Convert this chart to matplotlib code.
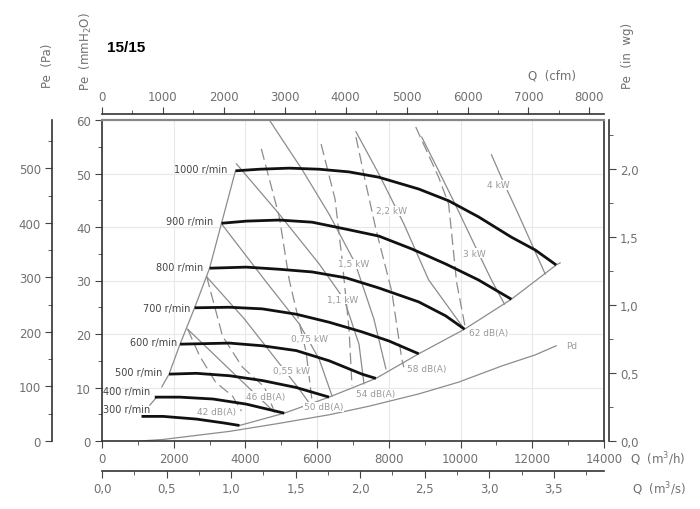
import matplotlib.pyplot as plt
from matplotlib.ticker import MultipleLocator, FuncFormatter

# fan speed curves: Q in m3/h, Pe in mmH2O
speed_labels = ["300 r/min", "400 r/min", "500 r/min", "600 r/min",
                "700 r/min", "800 r/min", "900 r/min", "1000 r/min"]
q300 = [1102, 1704, 2630, 3370, 3833]
pe300 = [4.6, 4.6, 4.1, 3.4, 2.9]
q400 = [1472, 2167, 3093, 4019, 5083]
pe400 = [8.2, 8.2, 7.85, 6.9, 5.2]
q500 = [1870, 2630, 3556, 4472, 5417, 6333]
pe500 = [12.5, 12.65, 12.2, 11.3, 10.0, 8.2]
q600 = [2176, 3556, 4472, 5417, 6333, 7250, 7639]
pe600 = [18.1, 18.3, 17.8, 16.9, 15.0, 12.5, 11.7]
q700 = [2583, 3556, 4472, 5417, 6333, 7250, 8000, 8833]
pe700 = [24.9, 25.0, 24.7, 23.7, 22.2, 20.4, 18.7, 16.3]
q800 = [3000, 4028, 4944, 5861, 6806, 7722, 8833, 9583, 10111]
pe800 = [32.3, 32.5, 32.1, 31.6, 30.5, 28.6, 26.0, 23.4, 20.9]
q900 = [3333, 4028, 4944, 5861, 6806, 7722, 8639, 9583, 10500, 11417]
pe900 = [40.7, 41.1, 41.3, 40.9, 39.6, 38.3, 35.9, 33.1, 30.1, 26.5]
q1000 = [3722, 4389, 5222, 6056, 6889, 7722, 8833, 9667, 10500, 11417, 12083, 12667]
pe1000 = [50.5, 50.8, 51.0, 50.8, 50.3, 49.3, 47.1, 44.9, 41.9, 38.1, 35.7, 32.9]
speed_q = [q300, q400, q500, q600, q700, q800, q900, q1000]
speed_pe = [pe300, pe400, pe500, pe600, pe700, pe800, pe900, pe1000]
speed_lbl_q = [1333, 1333, 1694, 2111, 2472, 2833, 3111, 3500]
speed_lbl_pe = [6.0, 9.3, 12.9, 18.5, 24.9, 32.5, 41.1, 50.8]

# power lines (solid)
kw_labels = ["", "0,55 kW", "0,75 kW", "1,1 kW", "1,5 kW", "2,2 kW", "3 kW", "4 kW"]
kw_q = [[2389, 3694, 4806],
        [2917, 3972, 5000, 5500, 5778],
        [3333, 4583, 5500, 6056, 6417],
        [3750, 4944, 6056, 6750, 7167, 7306],
        [4667, 5583, 6333, 7056, 7583, 7917],
        [7083, 7722, 8417, 9111, 10083],
        [8917, 9389, 9861, 10500, 10861, 11222],
        [10861, 11222, 11611, 12361]]
kw_pe = [[20.9, 12.5, 5.4],
         [30.7, 22.8, 14.0, 9.7, 7.1],
         [40.6, 29.7, 21.9, 15.3, 8.4],
         [51.8, 42.4, 33.1, 26.5, 18.1, 10.7],
         [60.0, 50.7, 42.4, 33.3, 22.8, 13.5],
         [57.8, 49.9, 40.6, 30.1, 21.1],
         [56.8, 50.5, 44.1, 35.1, 30.1, 25.6],
         [53.5, 48.0, 42.4, 31.2]]
kw_lbl_q = [0, 5278, 5778, 6722, 7028, 8083, 10389, 11056]
kw_lbl_pe = [0, 13.1, 19.1, 26.5, 33.1, 43.0, 35.1, 47.9]

# sound level lines (dashed)
db_labels = ["42 dB(A)", "46 dB(A)", "50 dB(A)", "54 dB(A)", "58 dB(A)", "62 dB(A)"]
db_q = [[2389, 2722, 3167, 3639, 3889],
        [2917, 3139, 3361, 3917, 4528, 4778],
        [4444, 4944, 5222, 5694, 5861],
        [6111, 6500, 6694, 6889, 6972],
        [7083, 7361, 7639, 8083, 8361, 8417],
        [8750, 9389, 9667, 9889, 10139]]
db_pe = [[20.9, 15.9, 11.0, 8.4, 5.6],
         [30.8, 25.2, 19.6, 13.8, 10.1, 6.0],
         [54.6, 41.9, 30.1, 16.6, 7.3],
         [55.5, 45.2, 34.0, 20.9, 10.3],
         [56.8, 48.0, 39.6, 27.9, 15.3, 13.8],
         [58.7, 49.3, 44.3, 29.7, 20.9]]
db_lbl_q = [2650, 4028, 5639, 7083, 8500, 10222]
db_lbl_pe = [5.6, 8.4, 6.4, 8.8, 13.5, 20.2]

# limit lines and dynamic pressure
env_q = [3833, 5083, 6333, 7639, 8833, 10111, 11417, 12667, 12778]
env_pe = [2.9, 5.2, 8.2, 11.7, 16.3, 20.9, 26.5, 32.9, 33.3]
surge_q = [1667, 1870, 2176, 2583, 3000, 3333, 3722]
surge_pe = [10.1, 12.5, 18.1, 24.9, 32.3, 40.7, 50.5]
surge_low_q = [1333, 1500]
surge_low_pe = [6.7, 8.0]
pd_q = [1056, 1694, 3556, 4944, 6333, 7444, 8833, 9944, 11139, 12083, 12667]
pd_pe = [0.0, 0.28, 1.8, 3.3, 4.9, 6.5, 8.8, 11.0, 14.0, 16.1, 17.8]

# secondary axis ticks
pa_ticks = [0, 100, 200, 300, 400, 500]
inwg_ticks = [0.0, 0.5, 1.0, 1.5, 2.0]
cfm_ticks = [0, 1000, 2000, 3000, 4000, 5000, 6000, 7000, 8000]
m3s_ticks = [0.0, 0.5, 1.0, 1.5, 2.0, 2.5, 3.0, 3.5]

GRAY = "#8c8c8c"
LBL = "#9a9a9a"
TXT = "#707070"

fig = plt.figure(figsize=(7, 5.1), dpi=100)
ax = fig.add_axes([102 / 700, 68 / 510, 502 / 700, 321 / 510])
ax.set_xlim(0, 14000)
ax.set_ylim(0, 60)
ax.xaxis.set_major_locator(MultipleLocator(2000))
ax.xaxis.set_minor_locator(MultipleLocator(1000))
ax.yaxis.set_major_locator(MultipleLocator(10))
ax.yaxis.set_minor_locator(MultipleLocator(5))
ax.grid(color="#e8e8e8", lw=0.8)
ax.set_axisbelow(True)
ax.tick_params(which="both", direction="out", color="#444", labelcolor=TXT,
               labelsize=8.5, pad=3)
ax.tick_params(which="major", length=5)
ax.tick_params(which="minor", length=3)
for s in ["left", "bottom", "right"]:
    ax.spines[s].set_color("#333")
    ax.spines[s].set_linewidth(1.2)
ax.spines["top"].set_color("#888")
ax.spines["top"].set_linewidth(1.6)

for xs, ys in zip(kw_q, kw_pe):
    ax.plot(xs, ys, color=GRAY, lw=0.9)
for xs, ys in zip(db_q, db_pe):
    ax.plot(xs, ys, color=GRAY, lw=0.9, dashes=(9, 4))
ax.plot(env_q, env_pe, color=GRAY, lw=0.9)
ax.plot(surge_q, surge_pe, color=GRAY, lw=0.9)
ax.plot(surge_low_q, surge_low_pe, color=GRAY, lw=0.9)
ax.plot(pd_q, pd_pe, color=GRAY, lw=0.9)
for xs, ys in zip(speed_q, speed_pe):
    ax.plot(xs, ys, color="#111", lw=2.0, solid_capstyle="butt")

for t, x, y in zip(speed_labels, speed_lbl_q, speed_lbl_pe):
    ax.text(x, y, t, fontsize=7, color="#444", ha="right", va="center")
for t, x, y in zip(kw_labels, kw_lbl_q, kw_lbl_pe):
    if t:
        ax.text(x, y, t, fontsize=6.5, color=LBL, ha="center", va="center",
                bbox=dict(fc="white", ec="none", pad=0.5))
for t, x, y in zip(db_labels, db_lbl_q, db_lbl_pe):
    ax.text(x, y, t, fontsize=6.5, color=LBL, ha="left", va="center",
            bbox=dict(fc="white", ec="none", pad=0.5))
ax.text(12950, 17.8, "Pd", fontsize=6.5, color=LBL, ha="left", va="center")

comma = FuncFormatter(lambda v, p: f"{v:.1f}".replace(".", ","))

sec_pa = ax.secondary_yaxis(-50 / 502, functions=(lambda y: y * 9.80665,
                                                  lambda p: p / 9.80665))
sec_pa.set_yticks(pa_ticks)
sec_pa.yaxis.set_minor_locator(MultipleLocator(50))

sec_in = ax.secondary_yaxis(1 + 5 / 502, functions=(lambda y: y / 25.4,
                                                    lambda w: w * 25.4))
sec_in.set_yticks(inwg_ticks)
sec_in.yaxis.set_minor_locator(MultipleLocator(0.25))
sec_in.yaxis.set_major_formatter(comma)

sec_cfm = ax.secondary_xaxis(1 + 6 / 321, functions=(lambda q: q / 1.699011,
                                                     lambda c: c * 1.699011))
sec_cfm.set_xticks(cfm_ticks)
sec_cfm.xaxis.set_minor_locator(MultipleLocator(500))

sec_s = ax.secondary_xaxis(-30 / 321, functions=(lambda q: q / 3600,
                                                 lambda s: s * 3600))
sec_s.set_xticks(m3s_ticks)
sec_s.xaxis.set_minor_locator(MultipleLocator(0.25))
sec_s.xaxis.set_major_formatter(comma)

for sa in [sec_pa, sec_in, sec_cfm, sec_s]:
    sa.tick_params(which="both", direction="out", color="#444",
                   labelcolor=TXT, labelsize=8.5, pad=3)
    sa.tick_params(which="major", length=5)
    sa.tick_params(which="minor", length=3)
    for s in sa.spines.values():
        s.set_color("#333")
        s.set_linewidth(1.2)

fig.text(107 / 700, 1 - 48 / 510, "15/15", fontsize=11, fontweight="bold",
         family="Liberation Sans", va="center")
fig.text(47 / 700, 1 - 66 / 510, "Pe  (Pa)", rotation=90, fontsize=8.5,
         color=TXT, ha="center", va="center")
fig.text(86 / 700, 1 - 52 / 510, "Pe  (mmH$_2$O)", rotation=90, fontsize=8.5,
         color=TXT, ha="center", va="center")
fig.text(627 / 700, 1 - 56 / 510, "Pe  (in  wg)", rotation=90, fontsize=8.5,
         color=TXT, ha="center", va="center")
fig.text(552 / 700, 1 - 76 / 510, "Q  (cfm)", fontsize=8.5, color=TXT,
         ha="center", va="center")
fig.text(630 / 700, 1 - 459 / 510, "Q  (m$^3$/h)", fontsize=8.5, color=TXT,
         ha="left", va="center")
fig.text(632 / 700, 1 - 489 / 510, "Q  (m$^3$/s)", fontsize=8.5, color=TXT,
         ha="left", va="center")

fig.savefig("out.png", dpi=100)
